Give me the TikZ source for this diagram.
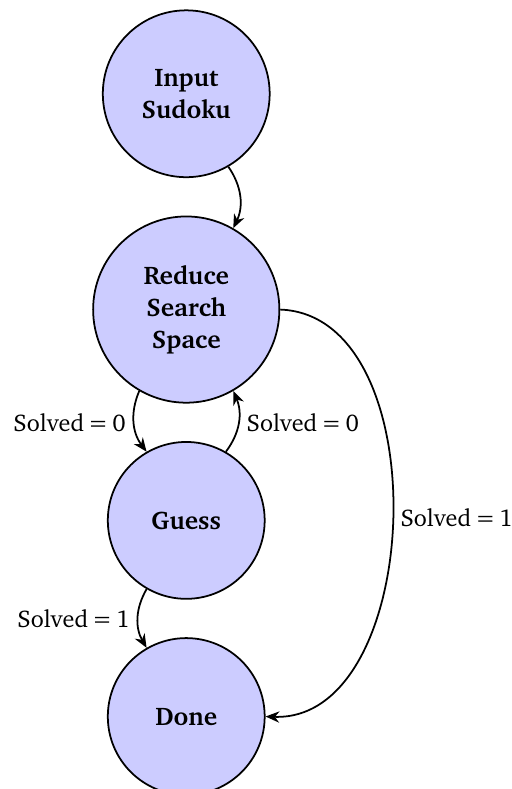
\documentclass[tikz,border=0pt]{standalone}
\usepackage[T1]{fontenc}
\usepackage{charter}
\usepackage{tikz}
\usetikzlibrary{arrows.meta,positioning}

\tikzset{
  stagenode/.style={circle,draw=black,thick,fill=blue!20,font=\fontsize{11.6}{14.5}\selectfont\bfseries,align=center,inner sep=0pt},
  flow/.style={-{Stealth[length=2.2mm,width=1.8mm]},thick},
  cond/.style={font=\fontsize{11}{13.2}\selectfont},
}

\begin{document}
\begin{tikzpicture}[node distance=0.6cm]
\useasboundingbox (0,0) rectangle (8.192,-12.624);

% States
\node[stagenode,minimum size=2.67cm] (input) at (2.98,-1.50) {Input\\Sudoku};
\node[stagenode,minimum size=2.98cm,below=of input] (reduce) {Reduce\\Search\\Space};
\node[stagenode,minimum size=2.51cm,below=of reduce] (guess) {Guess};
\node[stagenode,minimum size=2.51cm,below=of guess] (done) {Done};

% Transitions
\draw[flow] (input) to[bend left] (reduce);
\draw[flow] (reduce) to[bend right] node[cond,left]{Solved\,=\,0} (guess);
\draw[flow] (guess) to[bend right] node[cond,right]{Solved\,=\,0} (reduce);
\draw[flow] (guess) to[bend right] node[cond,left]{Solved\,=\,1} (done);
\draw[flow] (reduce) to[bend left=90] node[cond,right]{Solved\,=\,1} (done);
\end{tikzpicture}
\end{document}
